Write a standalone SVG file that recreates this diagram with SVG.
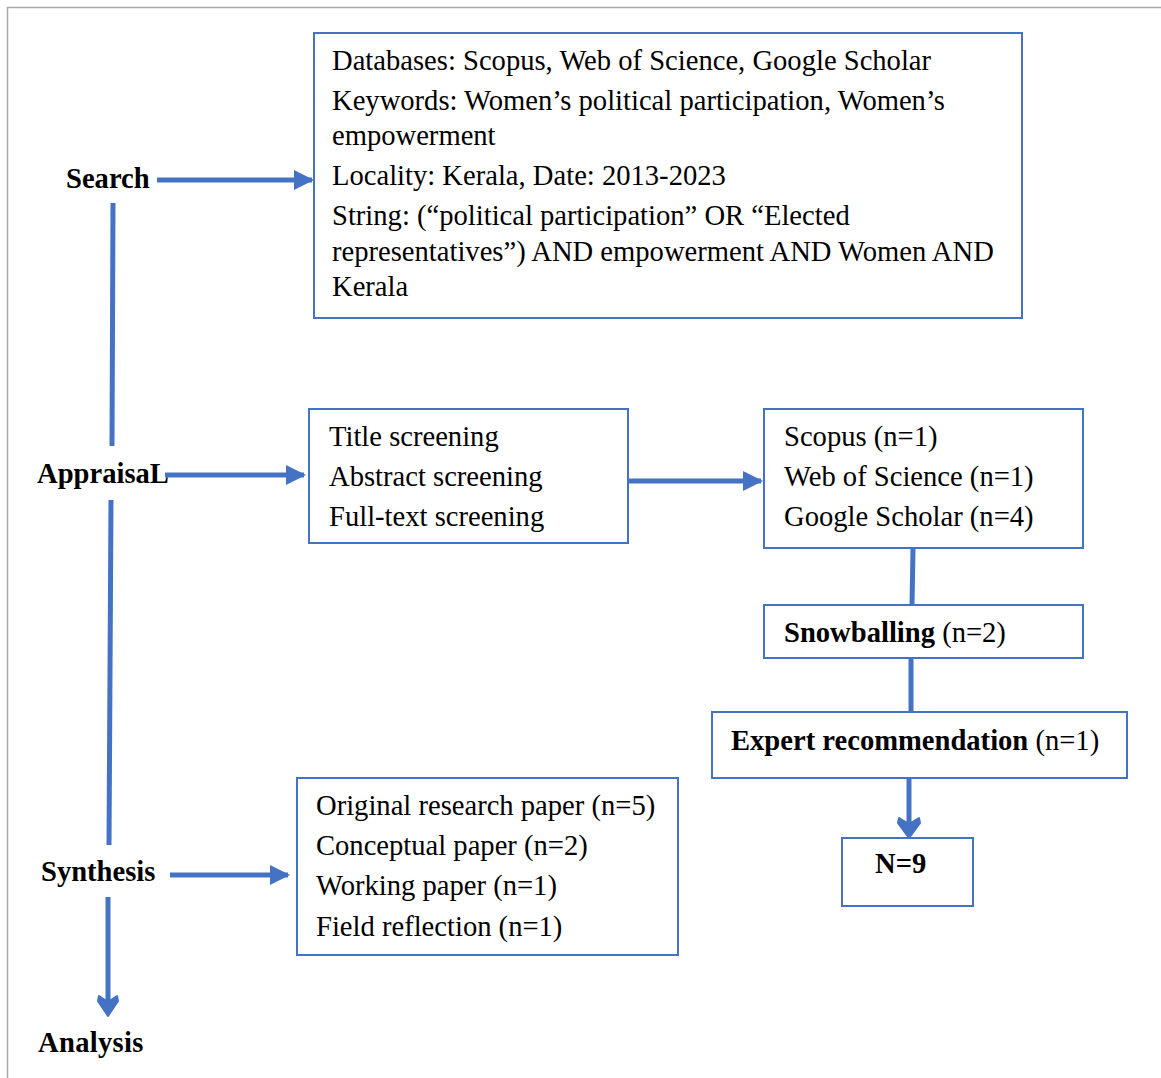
<svg xmlns="http://www.w3.org/2000/svg" width="1161" height="1078" viewBox="0 0 1161 1078">
<style>
.box{fill:#fff;stroke:#4472C4;stroke-width:2}
.t{font-family:"Liberation Serif","Times New Roman",serif;font-size:28.6px;fill:#000}
.b{font-weight:bold}
.c{stroke:#4472C4;stroke-width:5;fill:none}
</style>
<defs>
<marker id="tri" markerWidth="4" markerHeight="4" refX="3.6" refY="2" orient="auto" markerUnits="strokeWidth">
<path d="M0,0 L4,2 L0,4 Z" fill="#4472C4"/>
</marker>
</defs>
<rect width="1161" height="1078" fill="#fff"/>
<path d="M7.5,1078 V7.5 H1161" fill="none" stroke="#aaa" stroke-width="1.5"/>

<g id="connectors">
<line class="c" x1="157" y1="180" x2="312" y2="180" marker-end="url(#tri)"/>
<line class="c" x1="113" y1="203" x2="112" y2="446"/>
<line class="c" x1="111" y1="500" x2="109" y2="845"/>
<line class="c" x1="165" y1="475" x2="304" y2="475" marker-end="url(#tri)"/>
<line class="c" x1="170" y1="875" x2="288" y2="875" marker-end="url(#tri)"/>
<line class="c" x1="624" y1="481" x2="761" y2="481" marker-end="url(#tri)"/>
<line class="c" x1="108" y1="897" x2="108" y2="1008"/>
<path d="M99,996 L108,1002 L117,996 L118,1001 L108,1016 L98,1001 Z" fill="#4472C4" stroke="#4472C4" stroke-width="2" stroke-linejoin="round"/>
<line class="c" x1="913" y1="549" x2="912" y2="605"/>
<line class="c" x1="911" y1="658" x2="911" y2="712"/>
<line class="c" x1="909" y1="778" x2="909" y2="830"/>
<path d="M899,818 L909,824 L919,818 L920,823 L909,838 L898,823 Z" fill="#4472C4" stroke="#4472C4" stroke-width="2" stroke-linejoin="round"/>
</g>

<g id="search-label"><text class="t b" x="66" y="188">Search</text></g>
<g id="appraisal-label"><text class="t b" x="37" y="483">AppraisaL</text></g>
<g id="synthesis-label"><text class="t b" x="41" y="881">Synthesis</text></g>
<g id="analysis-label"><text class="t b" x="38" y="1052" letter-spacing="0.3">Analysis</text></g>

<g id="search-box">
<rect class="box" x="314" y="33" width="708" height="285"/>
<text class="t" x="332" y="70">Databases: Scopus, Web of Science, Google Scholar</text>
<text class="t" x="332" y="110">Keywords: Women’s political participation, Women’s</text>
<text class="t" x="332" y="145">empowerment</text>
<text class="t" x="332" y="185">Locality: Kerala, Date: 2013-2023</text>
<text class="t" x="332" y="225">String: (“political participation” OR “Elected</text>
<text class="t" x="332" y="261">representatives”) AND empowerment AND Women AND</text>
<text class="t" x="332" y="296">Kerala</text>
</g>

<g id="screening-box">
<rect class="box" x="309" y="409" width="319" height="134"/>
<text class="t" x="329" y="446">Title screening</text>
<text class="t" x="329" y="486">Abstract screening</text>
<text class="t" x="329" y="526">Full-text screening</text>
</g>

<g id="sources-box">
<rect class="box" x="764" y="409" width="319" height="139"/>
<text class="t" x="784" y="446">Scopus (n=1)</text>
<text class="t" x="784" y="486">Web of Science (n=1)</text>
<text class="t" x="784" y="526">Google Scholar (n=4)</text>
</g>

<g id="snowballing-box">
<rect class="box" x="764" y="605" width="319" height="53"/>
<text class="t" x="784" y="642"><tspan class="b">Snowballing</tspan> (n=2)</text>
</g>

<g id="expert-box">
<rect class="box" x="712" y="712" width="415" height="66"/>
<text class="t" x="731" y="750"><tspan class="b">Expert recommendation</tspan> (n=1)</text>
</g>

<g id="total-box">
<rect class="box" x="842" y="838" width="131" height="68"/>
<text class="t b" x="875" y="873">N=9</text>
</g>

<g id="synthesis-box">
<rect class="box" x="297" y="778" width="381" height="177"/>
<text class="t" x="316" y="815">Original research paper (n=5)</text>
<text class="t" x="316" y="855">Conceptual paper (n=2)</text>
<text class="t" x="316" y="895">Working paper (n=1)</text>
<text class="t" x="316" y="936">Field reflection (n=1)</text>
</g>
</svg>
